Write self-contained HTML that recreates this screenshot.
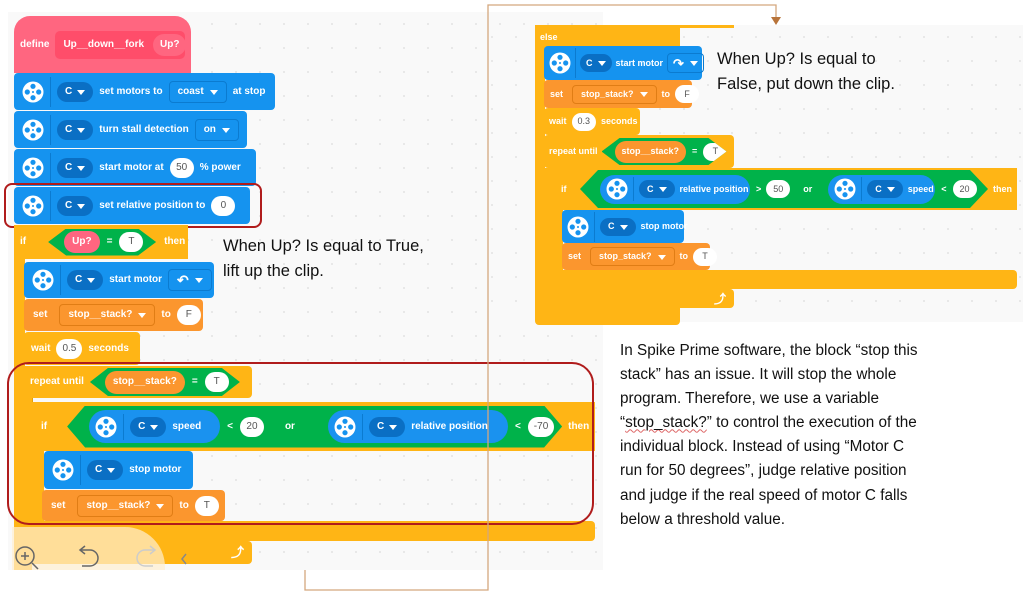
<!DOCTYPE html>
<html><head><meta charset="utf-8">
<style>
*{margin:0;padding:0;box-sizing:border-box}
body{width:1023px;height:596px;background:#fff;position:relative;overflow:hidden;font-family:"Liberation Sans",sans-serif}
.a{position:absolute}
.bg{position:absolute;background-color:#f9f9f9;background-image:radial-gradient(#e2e2e2 0.8px,transparent 1px);background-size:24px 24px}
.k{position:absolute;display:flex;align-items:center;color:#fff;font:bold 10px/1 "Liberation Sans",sans-serif;white-space:nowrap;gap:6px}
.k *{flex-shrink:0}
.bl{background:#1593ef;border-radius:4px}
.ye{background:#ffb515}
.or{background:#fb962e;border-radius:4px}
.gr{background:#00b24a}
.cv{background:#0a6fc4;border-radius:12px;height:20px;padding:0 8px;display:flex;align-items:center;gap:5px}
.cv:after{content:"";border:4px solid transparent;border-top:5px solid #fff;margin-top:5px}
.ov{background:#fff;color:#555;border-radius:11px;height:20px;min-width:24px;padding:0 6px;display:flex;align-items:center;justify-content:center;font-weight:normal}
.dd{border:1px solid #e07d15;border-radius:4px;height:22px;padding:0 8px;display:flex;align-items:center;gap:6px}
.dd:after{content:"";border:4px solid transparent;border-top:5px solid #fff;margin-top:5px}
.sep{width:1px;height:30px;background:#0b7bd0}
.hex{clip-path:polygon(0 50%,18px 0,calc(100% - 18px) 0,100% 50%,calc(100% - 18px) 100%,18px 100%)}
.rp{background:#1a92ef;border-radius:17px;height:33px;display:flex;align-items:center;gap:6px;padding:0 10px 0 6px}
.txt{position:absolute;color:#111;font-family:"Liberation Sans",sans-serif;white-space:nowrap}
</style></head><body>
<svg width="0" height="0" style="position:absolute"><defs><g id="ic"><circle cx="11" cy="11" r="10.5" fill="#fff"/><circle cx="11" cy="5.3" r="2.6" fill="#1593ef"/><circle cx="11" cy="16.7" r="2.6" fill="#1593ef"/><circle cx="5.3" cy="11" r="2.6" fill="#1593ef"/><circle cx="16.7" cy="11" r="2.6" fill="#1593ef"/><circle cx="11" cy="11" r="1" fill="#1593ef"/></g></defs></svg>

<div class="bg" style="left:8px;top:12px;width:595px;height:558px"></div>
<div class="bg" style="left:480px;top:25px;width:543px;height:297px"></div>

<!-- LEFT STACK -->
<div class="a ye" style="left:14px;top:225px;width:11px;height:345px"></div>
<div class="k" style="left:14px;top:16px;width:177px;height:57px;background:#ff6680;border-radius:16px 16px 0 0;padding-left:6px">define
  <div style="background:#ff4d6a;height:28px;width:130px;border-radius:5px;display:flex;align-items:center;gap:9px;padding-left:8px">Up__down__fork<div style="background:#ff6680;border-radius:12px;height:22px;padding:0 7px;display:flex;align-items:center">Up?</div></div></div>
<div class="k bl" style="left:14px;top:73px;width:261px;height:37px;padding-left:8px"><svg width="22" height="22"><use href="#ic"/></svg><div class="sep"></div><div class="cv">C</div>set motors to<div class="dd" style="border-color:#0b7bd0">coast</div>at stop</div>
<div class="k bl" style="left:14px;top:111px;width:233px;height:37px;padding-left:8px"><svg width="22" height="22"><use href="#ic"/></svg><div class="sep"></div><div class="cv">C</div>turn stall detection<div class="dd" style="border-color:#0b7bd0">on</div></div>
<div class="k bl" style="left:14px;top:149px;width:242px;height:37px;padding-left:8px"><svg width="22" height="22"><use href="#ic"/></svg><div class="sep"></div><div class="cv">C</div>start motor at<div class="ov">50</div>% power</div>
<div class="k bl" style="left:14px;top:187px;width:236px;height:37px;padding-left:8px"><svg width="22" height="22"><use href="#ic"/></svg><div class="sep"></div><div class="cv">C</div>set relative position to<div class="ov">0</div></div>
<div class="a" style="left:4px;top:183px;width:258px;height:45px;border:2px solid #b01c1c;border-radius:8px"></div>

<div class="k ye" style="left:14px;top:225px;width:174px;height:34px;padding-left:6px">if
  <div class="gr hex" style="margin-left:16px;width:108px;height:27px;display:flex;align-items:center;gap:7px;padding-left:16px"><div style="background:#ff6680;border-radius:11px;height:22px;padding:0 8px;display:flex;align-items:center">Up?</div>=<div class="ov">T</div></div><span style="margin-left:2px">then</span></div>
<div class="k bl" style="left:24px;top:262px;width:190px;height:36px;padding-left:8px"><svg width="22" height="22"><use href="#ic"/></svg><div class="sep"></div><div class="cv">C</div>start motor<div class="dd" style="border-color:#0b7bd0;font-size:14px">↶</div></div>
<div class="k or" style="left:24px;top:299px;width:179px;height:32px;padding-left:9px">set<div class="dd" style="margin-left:6px">stop__stack?</div>to<div class="ov">F</div></div>
<div class="k ye" style="left:24px;top:332px;width:116px;height:33px;padding-left:7px;border-radius:4px">wait<div class="ov">0.5</div>seconds</div>

<div class="k ye" style="left:14px;top:366px;width:238px;height:32px;padding-left:16px;border-radius:4px">repeat until
  <div class="gr hex" style="width:150px;height:28px;display:flex;align-items:center;gap:7px;padding-left:15px"><div style="background:#fb962e;border-radius:12px;height:23px;padding:0 8px;display:flex;align-items:center">stop__stack?</div>=<div class="ov">T</div></div></div>
<div class="a ye" style="left:14px;top:398px;width:18px;height:172px"></div>
<div class="a" style="left:32px;top:398px;width:1px;height:150px;background:#e2a00c"></div>
<div class="k ye" style="left:32px;top:402px;width:563px;height:49px;padding-left:9px">if
  <div class="gr hex" style="margin-left:14px;width:495px;height:42px;display:flex;align-items:center;padding-left:22px;gap:7px">
    <div class="rp" style="width:131px"><svg width="22" height="22"><use href="#ic"/></svg><div class="sep" style="height:26px"></div><div class="cv">C</div>speed</div>&lt;<div class="ov">20</div><span style="margin-left:14px">or</span>
    <div class="rp" style="margin-left:26px;width:180px"><svg width="22" height="22"><use href="#ic"/></svg><div class="sep" style="height:26px"></div><div class="cv">C</div>relative position</div>&lt;<div class="ov">-70</div></div>
  <span>then</span></div>
<div class="a ye" style="left:32px;top:450px;width:12px;height:90px"></div>
<div class="k bl" style="left:44px;top:451px;width:149px;height:38px;padding-left:8px"><svg width="22" height="22"><use href="#ic"/></svg><div class="sep"></div><div class="cv">C</div>stop motor</div>
<div class="k or" style="left:42px;top:490px;width:183px;height:31px;padding-left:9px">set<div class="dd" style="margin-left:6px">stop__stack?</div>to<div class="ov">T</div></div>
<div class="a ye" style="left:32px;top:521px;width:563px;height:20px;border-radius:0 4px 4px 0"></div>
<div class="k ye" style="left:14px;top:541px;width:238px;height:23px;border-radius:0 4px 4px 0;justify-content:flex-end;padding-right:8px;font-size:13px">⤴</div>
<div class="a" style="left:7px;top:362px;width:587px;height:163px;border:2px solid #b01c1c;border-radius:22px"></div>
<!-- zoom controls overlay -->
<div class="a" style="left:12px;top:527px;width:153px;height:43px;background:rgba(255,240,210,0.7);border-radius:0 40px 0 0"></div>
<svg class="a" style="left:10px;top:538px" width="190" height="32"><circle cx="15" cy="18" r="9" fill="none" stroke="#666" stroke-width="1.5"/><path d="M15 14v8M11 18h8M22 25l6 6" stroke="#666" stroke-width="1.5" fill="none"/><path d="M75 8l-5 4 5 4M70 12h10a8 8 0 0 1 0 16h-8" stroke="#666" stroke-width="1.5" fill="none"/><path d="M140 8l5 4-5 4M145 12h-10a8 8 0 0 0 0 16h8" stroke="#ccc" stroke-width="1.5" fill="none"/><path d="M176 16l-4 5 4 5" stroke="#888" stroke-width="1.5" fill="none"/></svg>

<div class="txt" style="left:223px;top:234px;font-size:16.5px;line-height:25px">When Up? Is equal to True,<br>lift up the clip.</div>

<!-- RIGHT STACK -->
<div class="a ye" style="left:535px;top:25px;width:199px;height:3px"></div>
<div class="k ye" style="left:535px;top:27px;width:145px;height:20px;padding-left:5px;font-size:9px">else</div>
<div class="a ye" style="left:535px;top:46px;width:10px;height:262px"></div>
<div class="k bl" style="left:544px;top:46px;width:158px;height:34px;padding-left:5px;gap:4px;font-size:9px"><svg width="22" height="22"><use href="#ic"/></svg><div class="sep"></div><div class="cv" style="height:18px;padding:0 6px">C</div>start motor<div class="dd" style="border-color:#0b7bd0;height:20px;font-size:13px;padding:0 5px">↷</div></div>
<div class="k or" style="left:544px;top:80px;width:148px;height:28px;padding-left:6px;gap:5px;font-size:9px">set<div class="dd" style="margin-left:4px;height:19px">stop_stack?</div>to<div class="ov" style="height:18px">F</div></div>
<div class="k ye" style="left:544px;top:108px;width:96px;height:27px;padding-left:5px;gap:5px;font-size:9px;border-radius:4px">wait<div class="ov" style="height:18px">0.3</div>seconds</div>
<div class="k ye" style="left:544px;top:135px;width:190px;height:33px;padding-left:5px;gap:4px;font-size:9px;border-radius:4px">repeat until
  <div class="gr hex" style="width:125px;height:27px;display:flex;align-items:center;gap:6px;padding-left:13px"><div style="background:#fb962e;border-radius:12px;height:22px;padding:0 7px;display:flex;align-items:center">stop__stack?</div>=<div class="ov" style="height:18px">T</div></div></div>
<div class="a ye" style="left:544px;top:168px;width:10px;height:122px"></div>
<div class="k ye" style="left:553px;top:168px;width:464px;height:42px;padding-left:8px;gap:0;font-size:9px">if
  <div class="gr hex" style="position:absolute;left:27px;top:2px;width:408px;height:38px;display:flex;align-items:center;padding-left:20px;gap:0">
    <div class="rp" style="width:150px;height:29px;gap:5px"><svg width="22" height="22"><use href="#ic"/></svg><div class="sep" style="height:24px"></div><div class="cv" style="height:18px">C</div>relative position</div><span style="margin-left:6px">&gt;</span><div class="ov" style="height:18px;margin-left:5px">50</div><span style="margin-left:13px">or</span>
    <div class="rp" style="margin-left:16px;width:107px;height:29px;gap:5px"><svg width="22" height="22"><use href="#ic"/></svg><div class="sep" style="height:24px"></div><div class="cv" style="height:18px">C</div>speed</div><span style="margin-left:6px">&lt;</span><div class="ov" style="height:18px;margin-left:6px">20</div></div>
  <span style="position:absolute;left:440px">then</span></div>
<div class="a ye" style="left:553px;top:210px;width:10px;height:62px"></div>
<div class="k bl" style="left:562px;top:210px;width:122px;height:33px;padding-left:5px;gap:5px;font-size:9px"><svg width="22" height="22"><use href="#ic"/></svg><div class="sep"></div><div class="cv" style="height:18px">C</div>stop motor</div>
<div class="k or" style="left:562px;top:243px;width:148px;height:27px;padding-left:6px;gap:5px;font-size:9px">set<div class="dd" style="margin-left:4px;height:19px">stop_stack?</div>to<div class="ov" style="height:18px">T</div></div>
<div class="a ye" style="left:553px;top:270px;width:464px;height:19px;border-radius:0 4px 4px 0"></div>
<div class="k ye" style="left:544px;top:289px;width:190px;height:19px;border-radius:0 4px 4px 0;justify-content:flex-end;padding-right:8px;font-size:12px">⤴</div>
<div class="a ye" style="left:535px;top:307px;width:145px;height:18px;border-radius:0 0 4px 4px"></div>

<div class="txt" style="left:717px;top:47px;font-size:16.5px;line-height:25px">When Up? Is equal to<br>False, put down the clip.</div>

<div class="txt" style="left:620px;top:339px;font-size:15.3px;line-height:24.1px">In Spike Prime software, the block “stop this<br>stack” has an issue. It will stop the whole<br>program. Therefore, we use a variable<br>“<span style="text-decoration:underline wavy #d66;text-decoration-thickness:1px">stop_stack?</span>” to control the execution of the<br>individual block. Instead of using “Motor C<br>run for 50 degrees”, judge relative position<br>and judge if the real speed of motor C falls<br>below a threshold value.</div>

<!-- connector -->
<svg class="a" style="left:0;top:0" width="1023" height="596">
<path d="M305 570V590H488V5H776V18" fill="none" stroke="#d4a77e" stroke-width="1.3"/>
<path d="M771 17l5 8 5-8z" fill="#b8743a"/>
</svg>
</body></html>
